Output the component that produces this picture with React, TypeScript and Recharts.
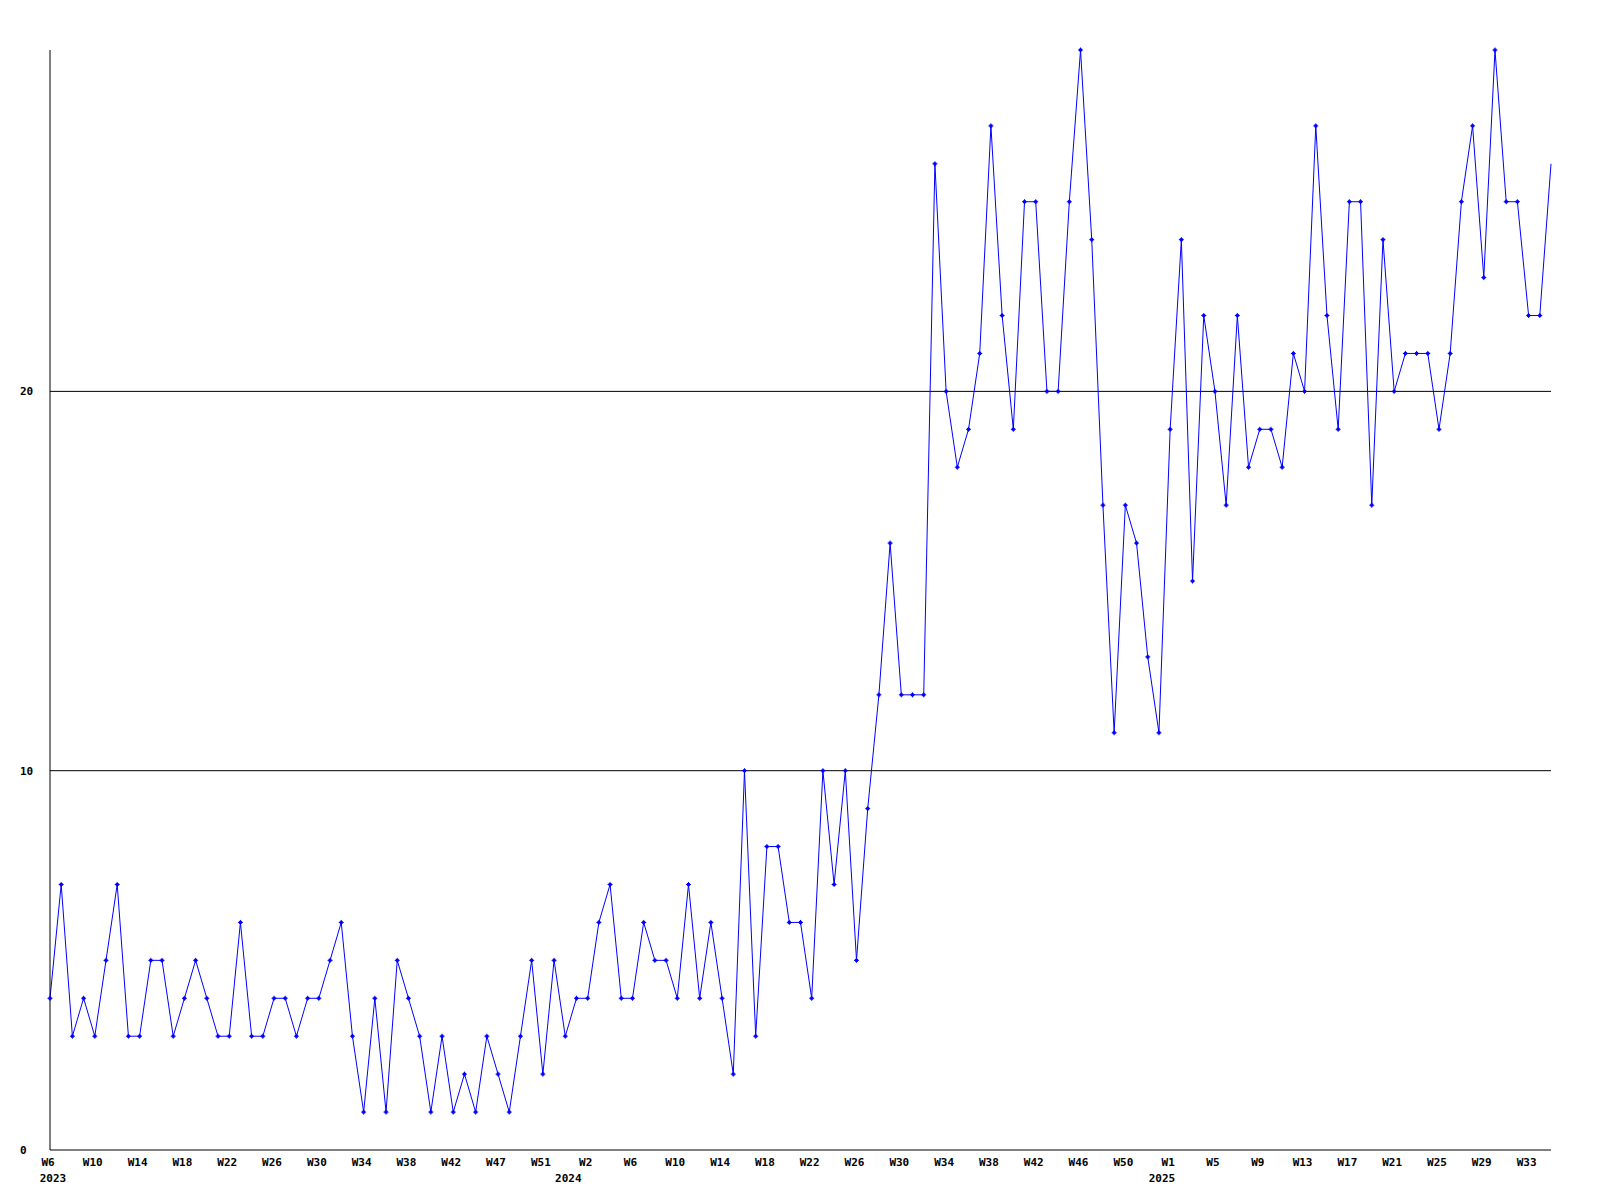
import React from 'react';
import { LineChart, Line, XAxis, YAxis, ReferenceLine } from 'recharts';

// Week labels per year (as shown on the axis source)
const weeks2023 = ['W6','W7','W8','W9','W10','W11','W12','W13','W14','W15','W16','W17','W18','W19','W20','W21','W22','W23','W24','W25','W26','W27','W28','W29','W30','W31','W32','W33','W34','W35','W36','W37','W38','W39','W40','W41','W42','W43','W44','W45','W47','W48','W49','W50','W51','W52'];
const weeks2024 = ['W0','W1','W2','W3','W4','W5','W6','W7','W8','W9','W10','W11','W12','W13','W14','W15','W16','W17','W18','W19','W20','W21','W22','W23','W24','W25','W26','W27','W28','W29','W30','W31','W32','W33','W34','W35','W36','W37','W38','W39','W40','W41','W42','W43','W44','W45','W46','W47','W48','W49','W50','W51','W52'];
const weeks2025 = ['W0','W1','W2','W3','W4','W5','W6','W7','W8','W9','W10','W11','W12','W13','W14','W15','W16','W17','W18','W19','W20','W21','W22','W23','W24','W25','W26','W27','W28','W29','W30','W31','W32','W33','W34','W35'];

const values2023 = [4,7,3,4,3,5,7,3,3,5, 5,3,4,5,4,3,3,6,3,3, 4,4,3,4,4,5,6,3,1,4, 1,5,4,3,1,3,1,2,1,3, 2,1,3,5,2,5];
const values2024 = [3,4,4,6, 7,4,4,6,5,5,4,7,4,6, 4,2,10,3,8,8,6,6,4,10, 7,10,5,9,12,16,12,12,12,26, 20,18,19,21,27,22,19,25,25,20, 20,25,29,24,17,11,17,16,13];
const values2025 = [11, 19,24,15,22,20,17,22,18,19,19, 18,21,20,27,22,19,25,25,17,24, 20,21,21,21,19,21,25,27,23,29, 25,25,22,22,26];

const yTicks = [0, 10, 20];
const gridValues = [10, 20];
const yMax = 29;

const data = [
  ...weeks2023.map((w, i) => ({ year: '2023', week: w, value: values2023[i] })),
  ...weeks2024.map((w, i) => ({ year: '2024', week: w, value: values2024[i] })),
  ...weeks2025.map((w, i) => ({ year: '2025', week: w, value: values2025[i] })),
].map((d, i) => ({ ...d, idx: i }));

const LABEL_EVERY = 4;
const yearStarts = data.filter((d, i) => i === 0 || data[i - 1].year !== d.year).map((d) => d.idx);
const xTicks = Array.from(new Set([
  ...data.filter((d) => d.idx % LABEL_EVERY === 0).map((d) => d.idx),
  ...yearStarts,
])).sort((a, b) => a - b);

const FONT = '"DejaVu Sans Mono", monospace';

const XTick = (props: any) => {
  const { x, payload } = props;
  const idx = payload.value as number;
  const d = data[idx];
  if (!d) return <g />;
  return (
    <g>
      {idx % LABEL_EVERY === 0 && (
        <text x={x - 2} y={1166} textAnchor="middle" fontFamily={FONT} fontWeight="bold" fontSize={11} fill="#000">
          {d.week}
        </text>
      )}
      {yearStarts.includes(idx) && (
        <text x={x + 3} y={1182} textAnchor="middle" fontFamily={FONT} fontWeight="bold" fontSize={11} fill="#000">
          {d.year}
        </text>
      )}
    </g>
  );
};

const YTick = (props: any) => {
  const { y, payload } = props;
  return (
    <text x={20} y={y} dy={4} textAnchor="start" fontFamily={FONT} fontWeight="bold" fontSize={11} fill="#000">
      {payload.value}
    </text>
  );
};

const Marker = (props: any) => {
  const { cx, cy, index } = props;
  if (cx == null || cy == null || index === data.length - 1) return <g key={`m${index}`} />;
  return (
    <g key={`m${index}`}>
      <path d={`M${cx - 2.5},${cy}H${cx + 2.5}M${cx},${cy - 2.5}V${cy + 2.5}`} stroke="#0000ff" strokeWidth={1} fill="none" />
      <rect x={cx - 1.5} y={cy - 1.5} width={3} height={3} fill="#0000ff" />
    </g>
  );
};

export default function App() {
  return (
    <div style={{ position: 'absolute', left: 0, top: 0, width: 1600, height: 1200, background: '#fff' }}>
      <LineChart width={1600} height={1200} data={data} margin={{ top: 50, right: 49, bottom: 10, left: 0 }}>
        <XAxis
          dataKey="idx"
          type="number"
          domain={[0, data.length - 1]}
          ticks={xTicks}
          interval={0}
          tick={<XTick />}
          tickLine={false}
          axisLine={{ stroke: '#000', strokeWidth: 1 }}
          height={40}
        />
        <YAxis
          type="number"
          domain={[0, yMax]}
          ticks={yTicks}
          width={50}
          tick={<YTick />}
          tickLine={false}
          axisLine={{ stroke: '#000', strokeWidth: 1 }}
        />
        {gridValues.map((v) => (
          <ReferenceLine key={v} y={v} stroke="#000" strokeWidth={1} ifOverflow="visible" />
        ))}
        <Line
          type="linear"
          dataKey="value"
          stroke="#0000ff"
          strokeWidth={1}
          dot={<Marker />}
          activeDot={false}
          isAnimationActive={false}
        />
      </LineChart>
    </div>
  );
}
